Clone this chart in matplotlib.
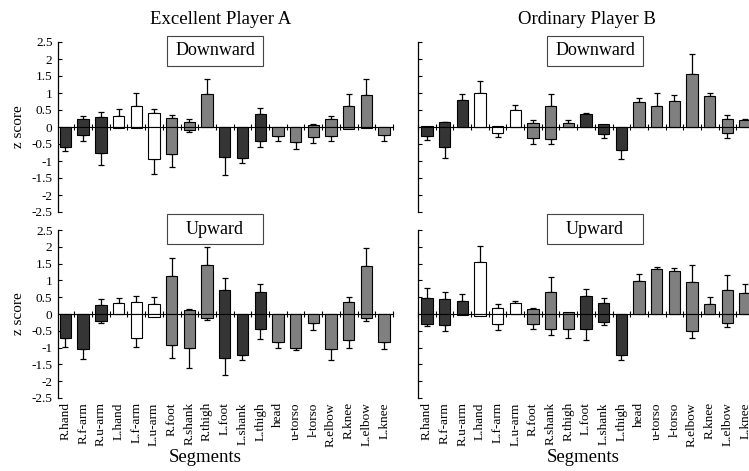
import numpy as np
import matplotlib
matplotlib.use("Agg")
import matplotlib.pyplot as plt
from matplotlib.patches import Rectangle

plt.rcParams["font.family"] = ["Liberation Serif", "DejaVu Serif"]

segments = ["R.hand", "R.f-arm", "R.u-arm", "L.hand", "L.f-arm", "L.u-arm",
            "R.foot", "R.shank", "R.thigh", "L.foot", "L.shank", "L.thigh",
            "head", "u-torso", "l-torso", "R.elbow", "R.knee", "L.elbow", "L.knee"]

# segment shading group: 0 = dark, 1 = white, 2 = grey
groups = [0, 0, 0, 1, 1, 1, 2, 2, 2, 0, 0, 0, 2, 2, 2, 2, 2, 2, 2]

# Excellent player A, downward phase
exc_down_pos = [0.00, 0.23, 0.30, 0.33, 0.63, 0.40, 0.26, 0.16, 0.96, 0.00, 0.00, 0.38, 0.00, 0.00, 0.05, 0.23, 0.62, 0.95, 0.00]
exc_down_pos_err = [0.00, 0.10, 0.13, 0.20, 0.37, 0.13, 0.10, 0.09, 0.44, 0.00, 0.00, 0.18, 0.00, 0.00, 0.05, 0.10, 0.36, 0.45, 0.00]
exc_down_neg = [-0.60, -0.24, -0.77, -0.03, -0.03, -0.95, -0.80, -0.10, 0.00, -0.87, -0.92, -0.42, -0.25, -0.44, -0.28, -0.26, -0.05, -0.03, -0.24]
exc_down_neg_err = [0.12, 0.16, 0.35, 0.00, 0.00, 0.44, 0.37, 0.05, 0.00, 0.53, 0.15, 0.17, 0.15, 0.20, 0.18, 0.16, 0.00, 0.00, 0.16]

# Excellent player A, upward phase
exc_up_pos = [0.00, 0.00, 0.28, 0.34, 0.36, 0.31, 1.13, 0.11, 1.46, 0.71, 0.00, 0.66, 0.00, 0.00, 0.00, 0.00, 0.36, 1.44, 0.00]
exc_up_pos_err = [0.00, 0.00, 0.18, 0.14, 0.18, 0.19, 0.53, 0.04, 0.53, 0.37, 0.00, 0.22, 0.00, 0.00, 0.00, 0.00, 0.15, 0.52, 0.00]
exc_up_neg = [-0.72, -1.04, -0.20, 0.00, -0.72, -0.08, -0.92, -1.02, -0.11, -1.32, -1.22, -0.46, -0.84, -1.02, -0.26, -1.04, -0.76, -0.11, -0.82]
exc_up_neg_err = [0.27, 0.29, 0.06, 0.00, 0.26, 0.00, 0.40, 0.60, 0.06, 0.50, 0.14, 0.28, 0.18, 0.05, 0.23, 0.32, 0.26, 0.09, 0.22]

# Ordinary player B, downward phase
ord_down_pos = [0.03, 0.14, 0.78, 1.01, 0.03, 0.50, 0.12, 0.62, 0.11, 0.38, 0.10, 0.00, 0.74, 0.63, 0.76, 1.56, 0.90, 0.23, 0.21]
ord_down_pos_err = [0.00, 0.02, 0.20, 0.35, 0.00, 0.16, 0.08, 0.36, 0.09, 0.04, 0.00, 0.00, 0.12, 0.37, 0.19, 0.59, 0.11, 0.12, 0.02]
ord_down_neg = [-0.26, -0.60, 0.00, 0.00, -0.17, 0.00, -0.32, -0.34, 0.00, 0.00, -0.20, -0.67, 0.00, 0.00, 0.00, 0.00, 0.00, -0.19, 0.00]
ord_down_neg_err = [0.13, 0.30, 0.00, 0.00, 0.11, 0.00, 0.18, 0.16, 0.00, 0.00, 0.12, 0.27, 0.00, 0.00, 0.00, 0.00, 0.00, 0.13, 0.00]

# Ordinary player B, upward phase
ord_up_pos = [0.48, 0.45, 0.40, 1.56, 0.19, 0.32, 0.14, 0.65, 0.06, 0.54, 0.33, 0.00, 0.98, 1.33, 1.29, 0.95, 0.31, 0.70, 0.63]
ord_up_pos_err = [0.30, 0.20, 0.19, 0.46, 0.11, 0.08, 0.04, 0.45, 0.00, 0.21, 0.15, 0.00, 0.22, 0.07, 0.09, 0.52, 0.21, 0.45, 0.27]
ord_up_neg = [-0.29, -0.34, -0.03, -0.06, -0.29, 0.00, -0.29, -0.46, -0.46, -0.44, -0.24, -1.21, 0.00, 0.00, 0.00, -0.52, 0.00, -0.27, 0.00]
ord_up_neg_err = [0.08, 0.17, 0.00, 0.00, 0.20, 0.00, 0.15, 0.16, 0.25, 0.32, 0.10, 0.15, 0.00, 0.00, 0.00, 0.18, 0.00, 0.12, 0.00]

yticks = [2.5, 2, 1.5, 1, 0.5, 0, -0.5, -1, -1.5, -2, -2.5]
ytick_labels = ["2.5", "2", "1.5", "1", "0.5", "0", "-0.5", "-1", "-1.5", "-2", "-2.5"]

shade = {0: "#353535", 1: "#ffffff", 2: "#808080"}
bar_colors = [shade[g] for g in groups]

W, H = 749, 471
fig = plt.figure(figsize=(W / 100, H / 100), dpi=100)


def px_axes(x0, y0, x1, y1):
    return fig.add_axes([x0 / W, 1 - y1 / H, (x1 - x0) / W, (y1 - y0) / H])


def draw_panel(ax, pos, pos_err, neg, neg_err, xlim, tag, show_ylabels, show_xlabels, tag_x):
    x = np.arange(len(segments))
    pos = np.asarray(pos); neg = np.asarray(neg)
    pos_err = np.asarray(pos_err); neg_err = np.asarray(neg_err)
    width = 0.64

    # error bars only on the outer end of each bar
    mp = pos_err > 0
    ax.errorbar(x[mp], pos[mp], yerr=[np.zeros(mp.sum()), pos_err[mp]], fmt="none",
                ecolor="black", elinewidth=0.9, capsize=2.2, capthick=0.9, zorder=2)
    mn = neg_err > 0
    ax.errorbar(x[mn], neg[mn], yerr=[neg_err[mn], np.zeros(mn.sum())], fmt="none",
                ecolor="black", elinewidth=0.9, capsize=2.2, capthick=0.9, zorder=2)

    ax.bar(x, pos, width, color=bar_colors, edgecolor="black", linewidth=0.8, zorder=3)
    ax.bar(x, neg, width, color=bar_colors, edgecolor="black", linewidth=0.8, zorder=3)

    ax.set_xlim(*xlim)
    ax.set_ylim(-2.5, 2.5)
    for s in ("top", "right", "bottom"):
        ax.spines[s].set_visible(False)
    ax.spines["left"].set_linewidth(0.9)
    ax.set_yticks(yticks)
    ax.tick_params(axis="y", direction="in", length=3, width=0.8, labelsize=9.5, pad=4)
    if show_ylabels:
        ax.set_yticklabels(ytick_labels)
        ax.set_ylabel("z score", fontsize=11)
        ax.yaxis.set_label_coords(-0.098, 0.5)
    else:
        ax.set_yticklabels([])

    ax.set_xticks(x)
    ax.tick_params(axis="x", length=0, pad=3, labelsize=9.5)
    if show_xlabels:
        ax.set_xticklabels(segments, rotation=90, va="top")
    else:
        ax.set_xticklabels([])

    # zero line with small category-boundary ticks
    zero = ax.secondary_xaxis(0.5)
    zero.spines["bottom"].set_linewidth(0.9)
    zero.set_xticks(np.arange(-0.5, len(segments), 1.0))
    zero.set_xticklabels([])
    zero.tick_params(direction="inout", length=4, width=0.8)

    # phase tag box
    bw, bh = 96 / (ax.get_position().width * W), 30 / (ax.get_position().height * H)
    ax.add_patch(Rectangle((tag_x - bw / 2, tag[1] - bh / 2), bw, bh, transform=ax.transAxes,
                           facecolor="white", edgecolor="#444444", linewidth=0.8,
                           clip_on=False, zorder=5))
    ax.text(tag_x, tag[1], tag[0], transform=ax.transAxes, ha="center", va="center",
            fontsize=13, zorder=6)


ax_tl = px_axes(58, 42, 393, 212)
ax_bl = px_axes(58, 230, 393, 398)
ax_tr = px_axes(418, 42, 754, 212)
ax_br = px_axes(418, 230, 754, 398)

left_xlim = (-0.42, 18.5)
right_xlim = (-0.5, 18.5)

draw_panel(ax_tl, exc_down_pos, exc_down_pos_err, exc_down_neg, exc_down_neg_err,
           left_xlim, ("Downward", 0.95), True, False, 0.469)
draw_panel(ax_bl, exc_up_pos, exc_up_pos_err, exc_up_neg, exc_up_neg_err,
           left_xlim, ("Upward", 1.005), True, True, 0.469)
draw_panel(ax_tr, ord_down_pos, ord_down_pos_err, ord_down_neg, ord_down_neg_err,
           right_xlim, ("Downward", 0.95), False, False, 0.527)
draw_panel(ax_br, ord_up_pos, ord_up_pos_err, ord_up_neg, ord_up_neg_err,
           right_xlim, ("Upward", 1.005), False, True, 0.527)

fig.text(221 / W, 1 - 19 / H, "Excellent Player A", ha="center", va="center", fontsize=13.5)
fig.text(587 / W, 1 - 19 / H, "Ordinary Player B", ha="center", va="center", fontsize=13.5)
fig.text(205 / W, 1 - 458 / H, "Segments", ha="center", va="center", fontsize=13.5)
fig.text(583 / W, 1 - 458 / H, "Segments", ha="center", va="center", fontsize=13.5)

fig.savefig("out.png", dpi=100)
